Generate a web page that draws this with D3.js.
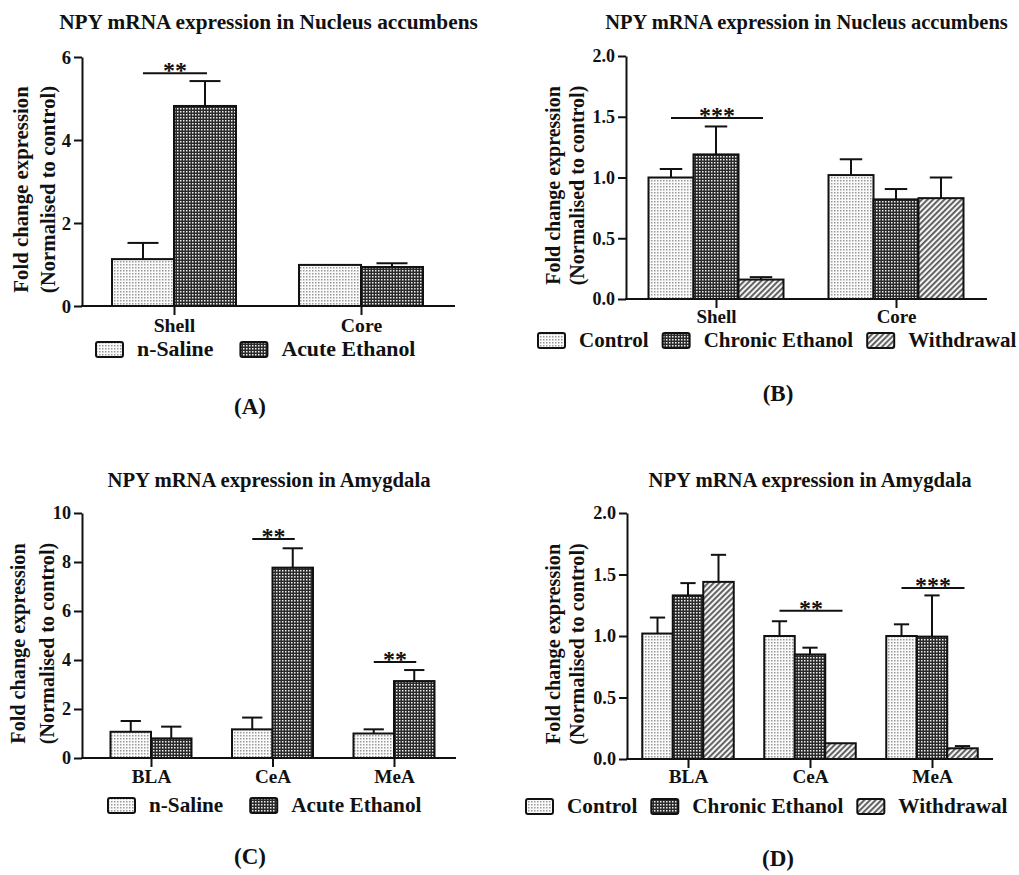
<!DOCTYPE html>
<html><head><meta charset="utf-8">
<script src="https://cdn.jsdelivr.net/npm/d3@7"></script>
<style>
body{margin:0;background:#fff}
svg{display:block}
text{font-family:"Liberation Serif","Times New Roman",serif;font-weight:bold;fill:#111}
</style>
</head><body>
<svg id="chart" width="1019" height="875"></svg>
<script>
// ---------- DATA ----------
const nacRegions = ["Shell", "Core"];
const amyRegions = ["BLA", "CeA", "MeA"];
const acuteGroups = ["n-Saline", "Acute Ethanol"];
const chronicGroups = ["Control", "Chronic Ethanol", "Withdrawal"];

// Panel A: NAc, acute
const aSalineMean = [1.13, 0.99];
const aSalineSem  = [0.39, 0.00];
const aAcuteMean  = [4.82, 0.94];
const aAcuteSem   = [0.60, 0.09];
const ticksA = [0, 2, 4, 6];
const sigA = [{cat: "Shell", from: 0, to: 1, y: 5.61, label: "**"}];

// Panel B: NAc, chronic
const bControlMean = [1.00, 1.02];
const bControlSem  = [0.07, 0.13];
const bChronicMean = [1.19, 0.82];
const bChronicSem  = [0.23, 0.085];
const bWithdrawMean = [0.16, 0.83];
const bWithdrawSem  = [0.02, 0.17];
const ticksB = [0, 0.5, 1.0, 1.5, 2.0];
const sigB = [{cat: "Shell", from: 0, to: 2, y: 1.49, label: "***"}];

// Panel C: Amygdala, acute
const cSalineMean = [1.07, 1.17, 1.00];
const cSalineSem  = [0.44, 0.48, 0.17];
const cAcuteMean  = [0.80, 7.77, 3.14];
const cAcuteSem   = [0.48, 0.79, 0.45];
const ticksC = [0, 2, 4, 6, 8, 10];
const sigC = [
  {cat: "CeA", from: 0, to: 1, y: 8.94, label: "**"},
  {cat: "MeA", from: 0, to: 1, y: 3.92, label: "**"}
];

// Panel D: Amygdala, chronic
const dControlMean = [1.02, 1.00, 1.00];
const dControlSem  = [0.13, 0.12, 0.095];
const dChronicMean = [1.33, 0.85, 0.995];
const dChronicSem  = [0.10, 0.055, 0.335];
const dWithdrawMean = [1.44, 0.128, 0.087];
const dWithdrawSem  = [0.22, 0.0, 0.018];
const ticksD = [0, 0.5, 1.0, 1.5, 2.0];
const sigD = [
  {cat: "CeA", from: 0, to: 2, y: 1.206, label: "**"},
  {cat: "MeA", from: 0, to: 2, y: 1.39, label: "***"}
];

const titleNAc = "NPY mRNA expression in Nucleus accumbens";
const titleAmy = "NPY mRNA expression in Amygdala";
const yLabel1 = "Fold change expression";
const yLabel2 = "(Normalised to control)";

// ---------- SETUP ----------
const svg = d3.select("#chart");
const defs = svg.append("defs");

// light dotted
const pl = defs.append("pattern").attr("id", "pLight").attr("patternUnits", "userSpaceOnUse")
  .attr("width", 3).attr("height", 3);
pl.append("rect").attr("width", 3).attr("height", 3).attr("fill", "#fafafa");
pl.append("rect").attr("width", 1.5).attr("height", 1.5).attr("fill", "#9a9a9a");
// dark checker
const pd = defs.append("pattern").attr("id", "pDark").attr("patternUnits", "userSpaceOnUse")
  .attr("width", 3).attr("height", 3);
pd.append("rect").attr("width", 3).attr("height", 3).attr("fill", "#2a2a2a");
pd.append("rect").attr("width", 1.5).attr("height", 1.5).attr("fill", "#f0f0f0");
// diagonal hatch
const ph = defs.append("pattern").attr("id", "pHatch").attr("patternUnits", "userSpaceOnUse")
  .attr("width", 4).attr("height", 4).attr("patternTransform", "rotate(45)");
ph.append("rect").attr("width", 4).attr("height", 4).attr("fill", "#f4f4f4");
ph.append("rect").attr("width", 1.8).attr("height", 4).attr("fill", "#555");

const fillsAcute = ["url(#pLight)", "url(#pDark)"];
const fillsChronic = ["url(#pLight)", "url(#pDark)", "url(#pHatch)"];

const panels = [
  {
    title: titleNAc, cats: nacRegions, groups: acuteGroups, fills: fillsAcute,
    means: [aSalineMean, aAcuteMean], sems: [aSalineSem, aAcuteSem],
    ticks: ticksA, fmt: d3.format("d"), sig: sigA, letter: "(A)", fs: 1.04,
    plot: {x0: 82, x1: 455, y0: 57, y1: 306}, catRange: [174, 361], barW: 62,
    titleY: 29, catDy: 26, yl1: -62, yl2: -35,
    legX: 96, legGap: 27, legDy: 36, letterX: 250, letterY: 414
  },
  {
    title: titleNAc, cats: nacRegions, groups: chronicGroups, fills: fillsChronic,
    means: [bControlMean, bChronicMean, bWithdrawMean], sems: [bControlSem, bChronicSem, bWithdrawSem],
    ticks: ticksB, fmt: d3.format(".1f"), sig: sigB, letter: "(B)", fs: 1,
    plot: {x0: 626, x1: 987, y0: 56, y1: 299}, catRange: [716, 896], barW: 45,
    titleY: 29, catDy: 24, yl1: -73, yl2: -49,
    legX: 538, legGap: 14, legDy: 34, letterX: 778, letterY: 401
  },
  {
    title: titleAmy, cats: amyRegions, groups: acuteGroups, fills: fillsAcute,
    means: [cSalineMean, cAcuteMean], sems: [cSalineSem, cAcuteSem],
    ticks: ticksC, fmt: d3.format("d"), sig: sigC, letter: "(C)", fs: 1.01,
    plot: {x0: 82, x1: 456, y0: 513, y1: 758}, catRange: [151, 394], barW: 40.5,
    titleY: 487, catDy: 25, yl1: -64, yl2: -35,
    legX: 108, legGap: 27, legDy: 40, letterX: 250, letterY: 864
  },
  {
    title: titleAmy, cats: amyRegions, groups: chronicGroups, fills: fillsChronic,
    means: [dControlMean, dChronicMean, dWithdrawMean], sems: [dControlSem, dChronicSem, dWithdrawSem],
    ticks: ticksD, fmt: d3.format(".1f"), sig: sigD, letter: "(D)", fs: 1.01,
    plot: {x0: 627, x1: 993, y0: 513, y1: 759}, catRange: [688, 932], barW: 30.5,
    titleY: 487, catDy: 24, yl1: -74, yl2: -50,
    legX: 526, legGap: 14, legDy: 40, letterX: 778, letterY: 866
  }
];

function drawPanel(cfg) {
  const g = svg.append("g");
  const P = cfg.plot;
  const fs = v => (v * cfg.fs) + "px";
  const yMax = d3.max(cfg.ticks);
  const y = d3.scaleLinear().domain([0, yMax]).range([P.y1, P.y0]);
  const x = d3.scalePoint().domain(cfg.cats).range(cfg.catRange);
  const n = cfg.groups.length;
  const xs = d3.scaleBand().domain(d3.range(n)).range([-n * cfg.barW / 2, n * cfg.barW / 2]).padding(0);

  // title
  g.append("text").attr("x", (P.x0 + P.x1) / 2).attr("y", cfg.titleY)
    .attr("text-anchor", "middle").style("font-size", fs(20.5)).text(cfg.title);

  // bars
  cfg.groups.forEach((gname, gi) => {
    const rows = cfg.cats.map((c, ci) => ({c, m: cfg.means[gi][ci], s: cfg.sems[gi][ci]}));
    const gg = g.append("g");
    gg.selectAll("rect").data(rows).join("rect")
      .attr("x", d => x(d.c) + xs(gi))
      .attr("y", d => y(d.m))
      .attr("width", xs.bandwidth())
      .attr("height", d => y(0) - y(d.m))
      .attr("fill", cfg.fills[gi])
      .attr("stroke", "#111").attr("stroke-width", 2);
    const eb = gg.selectAll("g.err").data(rows.filter(d => d.s > 0)).join("g").attr("class", "err");
    eb.append("line")
      .attr("x1", d => x(d.c) + xs(gi) + xs.bandwidth() / 2)
      .attr("x2", d => x(d.c) + xs(gi) + xs.bandwidth() / 2)
      .attr("y1", d => y(d.m)).attr("y2", d => y(d.m + d.s))
      .attr("stroke", "#111").attr("stroke-width", 2);
    eb.append("line")
      .attr("x1", d => x(d.c) + xs(gi) + xs.bandwidth() * 0.25)
      .attr("x2", d => x(d.c) + xs(gi) + xs.bandwidth() * 0.75)
      .attr("y1", d => y(d.m + d.s)).attr("y2", d => y(d.m + d.s))
      .attr("stroke", "#111").attr("stroke-width", 2);
  });

  // y axis
  const ya = g.append("g").attr("transform", `translate(${P.x0},0)`)
    .call(d3.axisLeft(y).tickValues(cfg.ticks).tickFormat(cfg.fmt).tickSize(8).tickSizeOuter(0).tickPadding(3));
  ya.selectAll("path,line").attr("stroke", "#111").attr("stroke-width", 2);
  ya.selectAll("text").style("font-size", fs(18)).style("font-family", null).attr("fill", "#111");

  // x axis baseline + ticks
  g.append("line").attr("x1", P.x0 - 1).attr("x2", P.x1).attr("y1", y(0)).attr("y2", y(0))
    .attr("stroke", "#111").attr("stroke-width", 2);
  const xa = g.append("g").attr("transform", `translate(0,${y(0)})`)
    .call(d3.axisBottom(x).tickSize(9).tickSizeOuter(0));
  xa.select(".domain").remove();
  xa.selectAll("line").attr("stroke", "#111").attr("stroke-width", 2);
  xa.selectAll("text").attr("y", cfg.catDy).attr("dy", null)
    .style("font-size", fs(19)).style("font-family", null).attr("fill", "#111");

  // y label
  const cy = (P.y0 + P.y1) / 2 + 8;
  [[yLabel1, cfg.yl1], [yLabel2, cfg.yl2]].forEach(([t, dx]) => {
    g.append("text").attr("transform", `translate(${P.x0 + dx},${cy}) rotate(-90)`)
      .attr("text-anchor", "middle").attr("dominant-baseline", "central")
      .style("font-size", fs(20)).text(t);
  });

  // significance
  cfg.sig.forEach(s => {
    const xa1 = x(s.cat) + xs(s.from) + xs.bandwidth() / 2;
    const xa2 = x(s.cat) + xs(s.to) + xs.bandwidth() / 2;
    g.append("line").attr("x1", xa1).attr("x2", xa2 + 2).attr("y1", y(s.y)).attr("y2", y(s.y))
      .attr("stroke", "#111").attr("stroke-width", 2);
    g.append("text").attr("x", (xa1 + xa2) / 2 + 1).attr("y", y(s.y) + 5)
      .attr("text-anchor", "middle").style("font-size", "24px").text(s.label);
  });

  // legend
  let lx = cfg.legX;
  const ly = y(0) + cfg.legDy;
  cfg.groups.forEach((gname, gi) => {
    g.append("rect").attr("x", lx).attr("y", ly).attr("width", 27).attr("height", 15)
      .attr("rx", 2).attr("fill", cfg.fills[gi]).attr("stroke", "#111").attr("stroke-width", 2);
    const t = g.append("text").attr("x", lx + 41).attr("y", ly + 14)
      .style("font-size", fs(21)).text(gname);
    lx = lx + 41 + t.node().getComputedTextLength() + cfg.legGap;
  });

  // panel letter
  g.append("text").attr("x", cfg.letterX).attr("y", cfg.letterY)
    .attr("text-anchor", "middle").style("font-size", "23px").text(cfg.letter);
}

panels.forEach(drawPanel);
</script>
</body></html>
